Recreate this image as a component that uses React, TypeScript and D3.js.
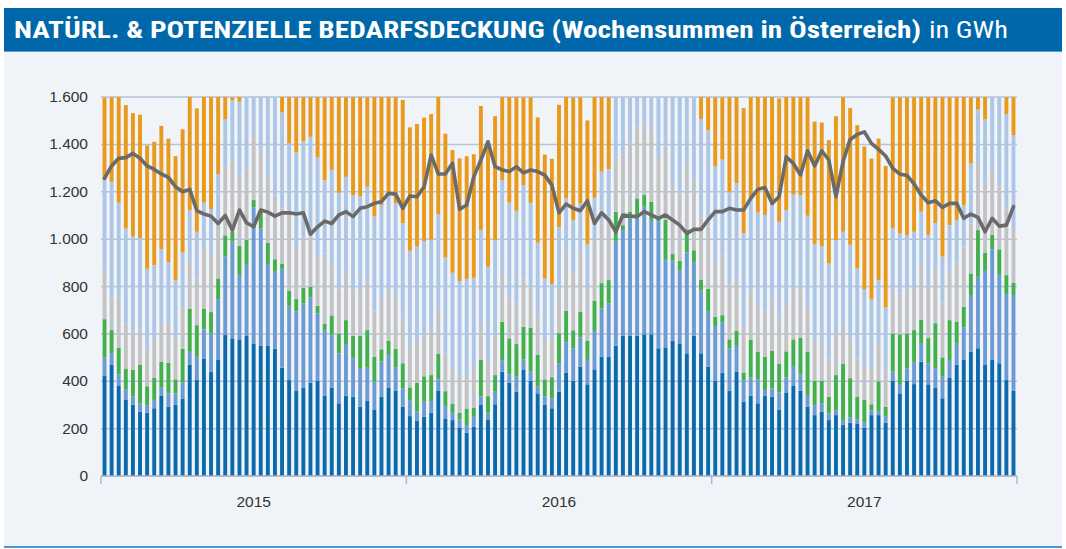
import React from 'react';
import * as d3 from 'd3';

// Wochensummen in GWh, 129 Wochen (3 Jahre zu je 43 Balken)
const darkBlue = [425, 469, 380, 321, 300, 272, 267, 286, 338, 293, 300, 325, 469, 405, 494, 440, 490, 595, 581, 577, 591, 559, 549, 549, 537, 457, 405, 359, 373, 394, 401, 339, 373, 307, 339, 335, 293, 318, 281, 335, 373, 359, 293, 253, 234, 250, 267, 359, 243, 236, 205, 183, 208, 300, 239, 303, 440, 394, 356, 450, 402, 349, 300, 286, 356, 436, 402, 461, 387, 450, 504, 504, 550, 592, 592, 592, 598, 598, 539, 543, 571, 557, 518, 592, 518, 461, 402, 436, 360, 440, 314, 339, 307, 339, 335, 281, 353, 380, 359, 293, 257, 272, 236, 257, 215, 225, 222, 205, 257, 257, 225, 402, 349, 402, 388, 483, 387, 373, 328, 416, 469, 490, 525, 539, 469, 490, 476, 405, 360];
const midBlue = [77, 49, 49, 46, 35, 35, 32, 35, 37, 56, 49, 70, 55, 98, 125, 162, 257, 331, 408, 272, 300, 575, 497, 346, 325, 418, 310, 335, 356, 360, 286, 277, 225, 211, 218, 162, 162, 139, 120, 148, 138, 98, 77, 65, 38, 63, 49, 49, 52, 31, 34, 32, 42, 35, 25, 53, 49, 35, 63, 42, 41, 28, 35, 42, 120, 128, 136, 124, 103, 162, 204, 225, 439, 446, 495, 498, 539, 483, 537, 373, 338, 312, 426, 312, 265, 232, 231, 212, 179, 113, 89, 77, 101, 24, 35, 72, 63, 84, 70, 49, 42, 35, 28, 21, 21, 23, 18, 20, 21, 14, 25, 38, 39, 52, 94, 75, 89, 82, 91, 73, 89, 138, 239, 302, 397, 467, 373, 363, 404];
const green = [160, 98, 113, 87, 113, 162, 80, 94, 107, 129, 59, 142, 182, 134, 86, 90, 87, 90, 42, 122, 106, 31, 77, 90, 53, 21, 66, 53, 65, 45, 31, 28, 80, 84, 101, 94, 136, 159, 103, 52, 61, 79, 106, 56, 122, 108, 110, 107, 63, 39, 28, 70, 39, 155, 73, 70, 162, 152, 138, 138, 183, 134, 73, 89, 127, 134, 77, 108, 82, 128, 106, 98, 127, 21, 28, 82, 49, 77, 18, 165, 28, 39, 97, 49, 45, 98, 39, 31, 38, 61, 34, 160, 117, 141, 159, 122, 110, 113, 155, 183, 103, 94, 70, 148, 239, 165, 94, 96, 25, 129, 42, 162, 210, 148, 134, 101, 106, 190, 82, 169, 94, 87, 91, 197, 77, 61, 108, 80, 52];
const grey = [205, 141, 211, 190, 162, 155, 156, 156, 163, 166, 173, 174, 204, 197, 252, 245, 227, 287, 305, 298, 300, 281, 256, 272, 270, 234, 342, 221, 217, 211, 208, 295, 210, 190, 204, 201, 194, 204, 190, 208, 217, 218, 190, 179, 180, 173, 190, 193, 159, 158, 155, 145, 172, 148, 145, 169, 197, 173, 172, 204, 170, 162, 166, 165, 183, 249, 246, 253, 214, 249, 253, 267, 232, 298, 295, 303, 303, 295, 253, 310, 291, 284, 276, 298, 274, 263, 232, 257, 232, 221, 194, 198, 193, 194, 217, 197, 200, 211, 204, 183, 179, 170, 162, 176, 158, 165, 162, 144, 158, 156, 158, 180, 173, 186, 183, 228, 225, 225, 231, 204, 246, 250, 211, 284, 300, 274, 265, 281, 222];
const lightBlue = [387, 485, 401, 401, 401, 380, 340, 319, 312, 259, 246, 232, 211, 197, 197, 190, 214, 204, 250, 311, 304, 153, 221, 343, 414, 404, 281, 397, 401, 422, 419, 310, 404, 404, 401, 394, 397, 401, 401, 401, 398, 397, 401, 398, 394, 398, 383, 398, 405, 394, 401, 401, 376, 401, 401, 401, 401, 400, 391, 394, 357, 312, 260, 229, 265, 225, 218, 204, 194, 186, 218, 201, 252, 242, 189, 125, 111, 146, 252, 210, 371, 407, 283, 348, 405, 405, 404, 400, 391, 401, 394, 397, 394, 404, 398, 401, 397, 400, 398, 391, 397, 400, 401, 394, 398, 398, 380, 324, 284, 270, 262, 263, 253, 229, 232, 229, 211, 197, 194, 197, 183, 179, 253, 225, 263, 308, 378, 398, 401];
const orange = [343, 357, 446, 521, 521, 521, 521, 521, 521, 521, 523, 521, 480, 521, 446, 473, 325, 93, 13, 20, 0, 0, 0, 0, 0, 66, 196, 235, 189, 167, 255, 350, 308, 404, 336, 414, 418, 378, 505, 456, 414, 449, 521, 521, 518, 521, 529, 494, 523, 518, 518, 519, 521, 523, 532, 523, 350, 446, 480, 371, 446, 529, 523, 528, 516, 428, 519, 449, 521, 425, 315, 304, 0, 0, 0, 0, 0, 0, 0, 0, 0, 0, 0, 0, 93, 139, 291, 263, 400, 364, 528, 428, 488, 498, 456, 521, 477, 414, 414, 501, 518, 521, 521, 523, 568, 577, 605, 602, 595, 598, 597, 554, 575, 582, 568, 484, 582, 533, 674, 540, 519, 456, 280, 52, 94, 0, 0, 72, 160];
const demand = [1256, 1309, 1341, 1344, 1362, 1341, 1309, 1294, 1275, 1261, 1221, 1200, 1210, 1120, 1106, 1097, 1066, 1100, 1038, 1123, 1069, 1052, 1123, 1114, 1097, 1111, 1111, 1106, 1111, 1021, 1052, 1076, 1066, 1102, 1116, 1095, 1130, 1137, 1151, 1158, 1193, 1190, 1130, 1182, 1179, 1221, 1355, 1275, 1275, 1320, 1126, 1144, 1263, 1334, 1411, 1306, 1292, 1285, 1306, 1280, 1292, 1285, 1270, 1228, 1111, 1148, 1130, 1120, 1162, 1066, 1111, 1081, 1031, 1102, 1097, 1095, 1116, 1102, 1088, 1102, 1081, 1059, 1024, 1041, 1041, 1081, 1116, 1116, 1130, 1123, 1123, 1172, 1210, 1218, 1151, 1179, 1348, 1320, 1271, 1373, 1309, 1373, 1334, 1179, 1327, 1421, 1442, 1453, 1404, 1379, 1351, 1299, 1275, 1269, 1233, 1186, 1154, 1162, 1134, 1151, 1151, 1088, 1106, 1092, 1031, 1088, 1055, 1059, 1137];

const years = ['2015', '2016', '2017'];
const yTicks = [0, 200, 400, 600, 800, 1000, 1200, 1400, 1600];

const seriesKeys = ['darkBlue', 'midBlue', 'green', 'grey', 'lightBlue', 'orange'];
const seriesColors: { [k: string]: string } = {
  darkBlue: '#0b69ad',
  midBlue: '#6b9bd2',
  green: '#45b04b',
  grey: '#c3c3c3',
  lightBlue: '#adc6e6',
  orange: '#e99a1b',
};

const W = 1066;
const H = 549;
const margin = { left: 101, right: 49, top: 97, bottom: 73 };

const App: React.FC = () => {
  const rows = darkBlue.map((_, i) => ({
    idx: i,
    darkBlue: darkBlue[i],
    midBlue: midBlue[i],
    green: green[i],
    grey: grey[i],
    lightBlue: lightBlue[i],
    orange: orange[i],
  }));

  const x = d3.scaleBand<number>()
    .domain(rows.map(d => d.idx))
    .range([margin.left, W - margin.right])
    .paddingInner(0.45)
    .paddingOuter(0.22);

  const y = d3.scaleLinear()
    .domain([0, 1600])
    .range([H - margin.bottom, margin.top]);

  const stacked = d3.stack<any>().keys(seriesKeys)(rows);

  const line = d3.line<number>()
    .x((_, i) => (x(i) as number) + x.bandwidth() / 2)
    .y(d => y(d));

  const x0 = margin.left;
  const x1 = W - margin.right;
  const yearW = (x1 - x0) / years.length;
  const fmt = d3.formatLocale({ decimal: ',', thousands: '.', grouping: [3], currency: ['', '€'] }).format(',');

  return (
    <svg width={W} height={H} style={{ position: 'absolute', left: 0, top: 0, display: 'block' }}
      fontFamily="'Liberation Sans', Arial, sans-serif">
      <rect x={0} y={0} width={W} height={H} fill="#ffffff" />
      <rect x={4} y={51} width={1058} height={496} fill="#f0f4f9" />
      <rect x={4} y={8} width={1058} height={43} fill="#0068aa" />
      <line x1={4} x2={1062} y1={51.5} y2={51.5} stroke="#5d9bd3" strokeWidth={1} />
      <line x1={4} x2={1062} y1={547} y2={547} stroke="#4d95d4" strokeWidth={2} />

      <text x={14} y={38} fill="#fff" fontSize={23} fontWeight="bold"
        fontFamily="'Liberation Sans Narrow', 'Roboto Condensed', Roboto, sans-serif"
        textLength={907} lengthAdjust="spacingAndGlyphs">
        NATÜRL. &amp; POTENZIELLE BEDARFSDECKUNG (Wochensummen in Österreich)
      </text>
      <text x={929} y={38} fill="#fff" fontSize={23}
        fontFamily="'Liberation Sans Narrow', 'Roboto Condensed', Roboto, sans-serif"
        textLength={79} lengthAdjust="spacingAndGlyphs">
        in GWh
      </text>

      {/* grid */}
      {yTicks.map(t => (
        <line key={t} x1={x0} x2={x1} y1={y(t)} y2={y(t)} stroke="#b5c3d9" strokeWidth={1.5} />
      ))}

      {/* bars */}
      <defs>
        <clipPath id="plotClip">
          <rect x={x0} y={y(1600)} width={x1 - x0} height={y(0) - y(1600)} />
        </clipPath>
      </defs>
      <g clipPath="url(#plotClip)">
        {stacked.map(s => (
          <g key={s.key} fill={seriesColors[s.key]}>
            {s.map((d, i) => (
              <rect key={i} x={x(i)} y={y(d[1])} width={x.bandwidth()}
                height={Math.max(0, y(d[0]) - y(d[1]))} />
            ))}
          </g>
        ))}
      </g>

      {/* demand line */}
      <path d={line(demand) || ''} fill="none" stroke="#6a6a6a" strokeWidth={3.6}
        strokeLinejoin="round" strokeLinecap="round" />

      {/* axes */}
      <line x1={x0} x2={x1} y1={y(0)} y2={y(0)} stroke="#aab8cf" strokeWidth={1.5} />
      {d3.range(years.length + 1).map(i => (
        <line key={i} x1={x0 + i * yearW} x2={x0 + i * yearW} y1={y(0)} y2={y(0) + 8}
          stroke="#aab8cf" strokeWidth={1.5} />
      ))}
      {years.map((yr, i) => (
        <text key={yr} x={x0 + (i + 0.5) * yearW} y={507} textAnchor="middle" fontSize={15.5} fill="#333">
          {yr}
        </text>
      ))}
      {yTicks.map(t => (
        <text key={t} x={88} y={y(t) + 5} textAnchor="end" fontSize={15.5} fill="#333">
          {fmt(t)}
        </text>
      ))}
    </svg>
  );
};

export default App;
